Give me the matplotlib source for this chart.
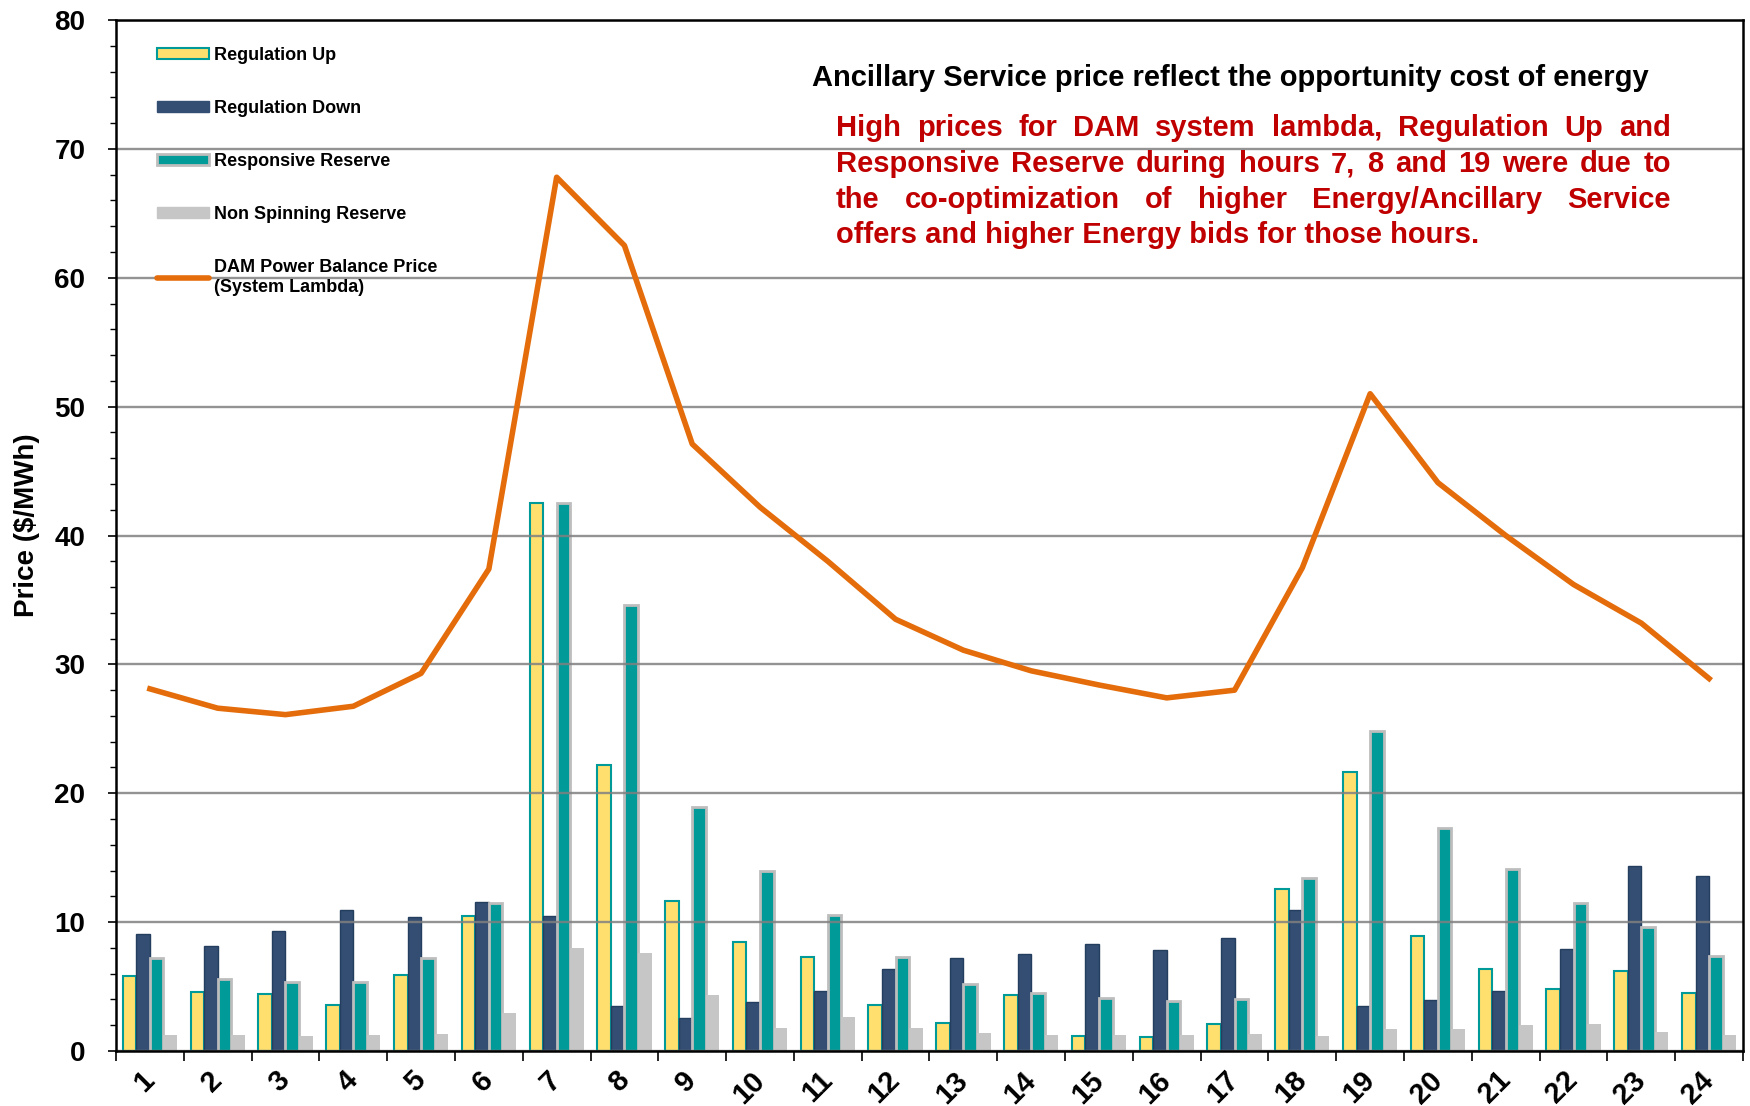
import numpy as np
import matplotlib
matplotlib.use("Agg")
import matplotlib.pyplot as plt
from matplotlib.patches import Patch
from matplotlib.lines import Line2D
from matplotlib.ticker import MultipleLocator

plt.rcParams['font.family'] = ['Liberation Sans', 'DejaVu Sans']
plt.rcParams['font.weight'] = 'bold'

hours = list(range(1, 25))
reg_up = [5.8, 4.55, 4.4, 3.57, 5.9, 10.47, 42.5, 22.17, 11.64, 8.43, 7.29, 3.57,
          2.17, 4.35, 1.14, 1.09, 2.1, 12.59, 21.63, 8.94, 6.4, 4.82, 6.22, 4.48]
reg_down = [9.05, 8.14, 9.3, 10.96, 10.42, 11.53, 10.5, 3.47, 2.59, 3.82, 4.67, 6.35,
            7.23, 7.51, 8.34, 7.85, 8.78, 10.96, 3.5, 3.96, 4.64, 7.9, 14.35, 13.6]
resp_res = [7.24, 5.61, 5.38, 5.38, 7.24, 11.5, 42.5, 34.6, 18.96, 13.94, 10.53, 7.26,
            5.19, 4.53, 4.15, 3.89, 4.02, 13.42, 24.8, 17.33, 14.09, 11.48, 9.64, 7.36]
non_spin = [1.22, 1.22, 1.17, 1.22, 1.34, 2.95, 7.97, 7.58, 4.34, 1.82, 2.66, 1.75,
            1.39, 1.27, 1.22, 1.22, 1.35, 1.17, 1.74, 1.68, 2.05, 2.1, 1.5, 1.27]
lambda_price = [28.1, 26.6, 26.1, 26.75, 29.3, 37.4, 67.8, 62.5, 47.1, 42.2, 38.0, 33.5,
                31.1, 29.5, 28.4, 27.4, 28.0, 37.5, 51.0, 44.1, 40.0, 36.2, 33.2, 28.9]

title_text = "Ancillary Service price reflect the opportunity cost of energy"
note_lines = [
    "High prices for DAM system lambda, Regulation Up and",
    "Responsive Reserve during hours 7, 8 and 19 were due to",
    "the co-optimization of higher Energy/Ancillary Service",
    "offers and higher Energy bids for those hours.",
]

YELLOW = '#FFE06E'
TEAL = '#009A98'
NAVY = '#334E72'
GRAY = '#C6C6C6'
ORANGE = '#E46C0A'
RED = '#C00000'

W, H = 1750, 1106
fig = plt.figure(figsize=(W / 100, H / 100), dpi=100)
ax = fig.add_axes([116 / W, 1 - 1051 / H, (1743 - 116) / W, (1051 - 20) / H])

x = np.array(hours, dtype=float)
bw = 0.2
ax.bar(x - 1.5 * bw, reg_up, bw, color=YELLOW, edgecolor=TEAL, linewidth=1.5, zorder=2)
ax.bar(x - 0.5 * bw, reg_down, bw, color=NAVY, edgecolor='#243E60', linewidth=1.0, zorder=2)
ax.bar(x + 0.5 * bw, resp_res, bw, color=TEAL, edgecolor='#BDBDBD', linewidth=2.0, zorder=2)
ax.bar(x + 1.5 * bw, non_spin, bw, color=GRAY, edgecolor='none', zorder=2)
ax.plot(x, lambda_price, color=ORANGE, linewidth=4.0, zorder=4, solid_joinstyle='round')

ax.set_xlim(0.5, 24.5)
ax.set_ylim(0, 80)
ax.yaxis.set_major_locator(MultipleLocator(10))
ax.yaxis.set_minor_locator(MultipleLocator(2))
ax.grid(axis='y', which='major', color='#808080', linewidth=1.7, alpha=0.85, zorder=3)
ax.set_axisbelow(False)
for sp in ax.spines.values():
    sp.set_linewidth(1.8)
    sp.set_zorder(5)

ax.set_xticks(np.arange(0.5, 25, 1))
ax.set_xticklabels([])
ax.set_xticks(x, minor=True)
ax.set_xticklabels([str(h) for h in hours], minor=True, rotation=45, ha='right', va='center',
                   rotation_mode='anchor', fontsize=21, fontweight='bold')
ax.tick_params(axis='x', which='major', direction='out', length=7, width=1.2)
ax.tick_params(axis='x', which='minor', length=0, pad=18)
ax.tick_params(axis='y', which='major', direction='out', length=6, width=1.2, pad=16,
               labelsize=20)
ax.tick_params(axis='y', which='minor', direction='out', length=4, width=1.0)
for lab in ax.get_yticklabels():
    lab.set_fontweight('bold')

ax.set_ylabel('Price ($/MWh)', fontsize=20, fontweight='bold')
ax.yaxis.set_label_coords(-0.047, 0.51)

handles = [
    Patch(facecolor=YELLOW, edgecolor=TEAL, linewidth=1.5),
    Patch(facecolor=NAVY, edgecolor=NAVY),
    Patch(facecolor=TEAL, edgecolor='#BDBDBD', linewidth=2.0),
    Patch(facecolor=GRAY, edgecolor=GRAY),
    Line2D([0], [0], color=ORANGE, linewidth=4.0, solid_capstyle='round'),
]
labels = ['Regulation Up', 'Regulation Down', 'Responsive Reserve',
          'Non Spinning Reserve', 'DAM Power Balance Price\n(System Lambda)']
leg = ax.legend(handles, labels, loc='upper left', bbox_to_anchor=(0.021, 0.981),
                frameon=False, fontsize=13, handlelength=2.85, handleheight=0.55,
                handletextpad=0.3, labelspacing=2.0, borderaxespad=0)
for t in leg.get_texts():
    t.set_fontweight('bold')
leg.get_texts()[-1].set_linespacing(1.2)

fig.text(1230 / W, 1 - 78 / H, title_text, ha='center', va='center', fontsize=21,
         fontweight='bold', color='black')

# justified red note
renderer = fig.canvas.get_renderer()
x_left, x_right = 836, 1671
line_y = [128, 164, 200, 235]
for i, (line, yy) in enumerate(zip(note_lines, line_y)):
    words = line.split(' ')
    if i == len(note_lines) - 1:
        fig.text(x_left / W, 1 - yy / H, line, ha='left', va='center', fontsize=21,
                 fontweight='bold', color=RED)
        continue
    texts = [fig.text(0, 1 - yy / H, w, ha='left', va='center', fontsize=21,
                      fontweight='bold', color=RED) for w in words]
    widths = [t.get_window_extent(renderer).width for t in texts]
    gap = (x_right - x_left - sum(widths)) / (len(words) - 1)
    pos = x_left
    for t, wd in zip(texts, widths):
        t.set_x(pos / W)
        pos += wd + gap

fig.savefig('out.png', dpi=100)
